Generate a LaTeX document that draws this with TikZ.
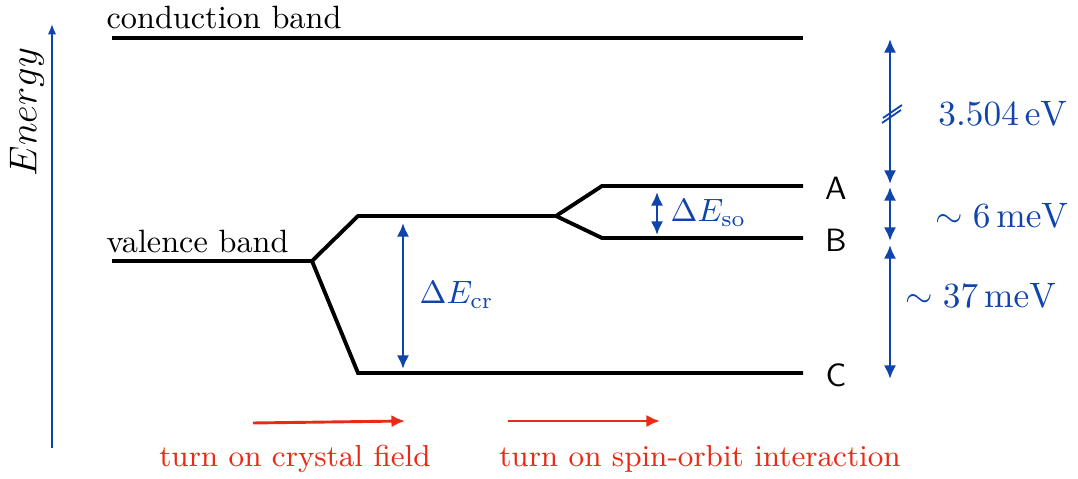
\documentclass[tikz,border=0pt]{standalone}
\usetikzlibrary{positioning, arrows.meta}

\definecolor{gapblue}{RGB}{14,68,172}
\definecolor{fieldred}{RGB}{234,42,22}

\begin{document}
\begin{tikzpicture}[x=0.31pt, y=-0.31pt,
        band/.style = {line width=1.2pt, line join=miter},
        gap/.style = {{Latex[length=4.2pt, width=3.8pt]}-{Latex[length=4.2pt, width=3.8pt]}, line width=0.8pt, draw=gapblue},
        gaplabel/.style = {text=gapblue, anchor=west, inner sep=0pt},
        turnon/.style = {-{Latex[length=4.2pt, width=3.8pt]}, line width=0.9pt, draw=fieldred},
        turnlabel/.style = {text=fieldred, inner sep=0pt, font=\fontsize{9.4}{11}\selectfont},
        level/.style = {font=\sffamily, inner sep=0pt}
    ]
    \useasboundingbox (0,0) rectangle (1078,479);

    % energy axis
    \coordinate (axis bottom) at (52,448);
    \coordinate (axis top) at (52,24);
    \draw[-{Latex[length=3.2pt, width=2.6pt]}, line width=0.55pt, gapblue] (axis bottom) -- (axis top);
    \node[rotate=90, font=\large, inner sep=0pt] (energy) at (27,112) {$Energy$};

    % conduction band
    \coordinate (cb west) at (112,38);
    \coordinate (cb east) at (803,38);
    \draw[band] (cb west) -- (cb east);
    \node[anchor=base west, inner sep=0pt] (cb label) at (106,29) {conduction band};

    % valence band and its splitting
    \coordinate (vb west) at (112,261);
    \coordinate (vb split) at (312,261);
    \coordinate (ab west) at (358,216);
    \coordinate (so split) at (556,216);
    \coordinate (a west) at (602,186);
    \coordinate (a east) at (803,186);
    \coordinate (b west) at (602,238);
    \coordinate (b east) at (803,238);
    \coordinate (c west) at (358,373);
    \coordinate (c east) at (803,373);
    \draw[band] (vb west) -- (vb split) -- (ab west) -- (so split) -- (a west) -- (a east);
    \draw[band] (so split) -- (b west) -- (b east);
    \draw[band] (vb split) -- (c west) -- (c east);
    \node[anchor=base west, inner sep=0pt] (vb label) at (106,253) {valence band};

    \node[level] (level a) at (836,188) {A};
    \node[level] (level b) at (836,240) {B};
    \node[level] (level c) at (836,375) {C};

    % splittings
    \coordinate (cr top) at (403,223);
    \coordinate (cr bottom) at (403,369);
    \draw[gap] (cr bottom) -- (cr top);
    \node[gaplabel] (cr label) at (419,295) {$\Delta E_{\mathrm{cr}}$};

    \coordinate (so top) at (657,192);
    \coordinate (so bottom) at (657,235);
    \draw[gap] (so bottom) -- (so top);
    \node[gaplabel] (so label) at (670,213) {$\Delta E_{\mathrm{so}}$};

    % energy gaps on the right
    \coordinate (gap top) at (890,39);
    \coordinate (gap bottom) at (890,184);
    \coordinate (ab top) at (890,187);
    \coordinate (ab bottom) at (890,241);
    \coordinate (bc top) at (890,245);
    \coordinate (bc bottom) at (890,379);
    \draw[gap] (gap bottom) -- (gap top);
    \draw[gap] (ab bottom) -- (ab top);
    \draw[gap] (bc bottom) -- (bc top);
    \coordinate (brk) at (891,116);
    \draw[gapblue, line width=0.55pt] ([shift={(-9,7)}]brk) -- ++(19,-13)
                                      ([shift={(-8,2)}]brk) -- ++(19,-13);
    \node[text=gapblue, font=\fontsize{10.8}{13}\selectfont] (gap label) at (1003,113) {$3.504\,\mathrm{eV}$};
    \node[text=gapblue, font=\fontsize{10.8}{13}\selectfont] (ab label) at (1002,215) {$\sim 6\,\mathrm{meV}$};
    \node[text=gapblue, font=\fontsize{10.8}{13}\selectfont] (bc label) at (981,295) {$\sim 37\,\mathrm{meV}$};

    % what is switched on
    \coordinate (cf start) at (253,423);
    \coordinate (cf end) at (405,421);
    \coordinate (so start) at (508,421);
    \coordinate (so end) at (660,421);
    \draw[turnon] (cf start) -- (cf end);
    \draw[turnon] (so start) -- (so end);
    \node[turnlabel] (cf label) at (295,459) {turn on crystal field};
    \node[turnlabel] (so text) at (700,459) {turn on spin-orbit interaction};

\end{tikzpicture}
\end{document}
